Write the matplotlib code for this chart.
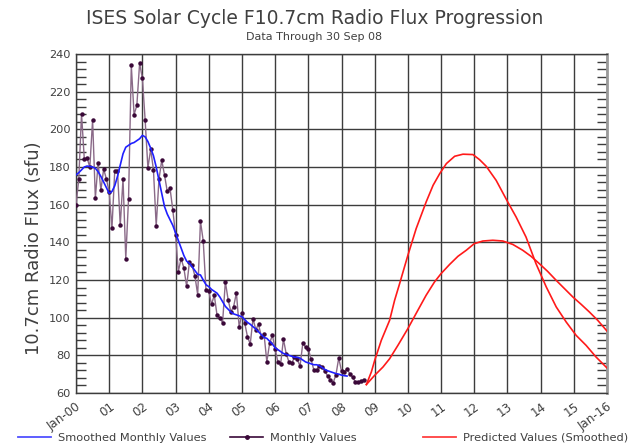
import matplotlib
matplotlib.use('Agg')
import matplotlib.pyplot as plt
from matplotlib.lines import Line2D
from matplotlib.ticker import MultipleLocator, FixedLocator

plt.rcParams['font.family'] = ['DejaVu Sans']

# ---- data ----
monthly_start_year = 2000  # first month: Jan 2000
monthly_values = [
    160.0, 173.4, 208.2, 184.2, 184.9, 179.9, 205.0, 163.5, 182.1, 167.7, 178.9, 173.6,
    166.8, 147.5, 177.7, 178.0, 149.0, 173.7, 131.3, 163.2, 233.9, 207.8, 212.7, 235.1,
    227.1, 205.0, 179.5, 189.4, 178.6, 148.7, 173.5, 183.6, 175.8, 167.0, 168.7, 157.2,
    144.0, 124.5, 131.4, 126.4, 116.6, 129.3, 127.7, 122.1, 112.2, 151.3, 140.8, 114.8,
    114.1, 107.0, 112.0, 101.2, 99.8, 97.4, 119.1, 109.6, 103.1, 105.9, 113.2, 95.0,
    102.3, 97.2, 89.9, 86.0, 99.5, 93.7, 96.4, 90.0, 91.1, 76.6, 86.3, 90.8,
    83.4, 76.5, 75.5, 88.6, 80.9, 76.5, 75.8, 79.0, 77.8, 74.3, 86.3, 84.5,
    83.5, 77.8, 72.2, 72.4, 74.4, 74.0, 71.6, 69.0, 67.1, 65.5, 69.7, 78.6,
    71.6, 71.1, 72.9, 70.2, 68.4, 65.9, 65.7, 66.3, 67.1,
]
smoothed_values = [
    175.8, 177.0, 178.5, 180.0, 180.5, 180.3, 180.0, 179.3, 177.5, 175.0, 172.0, 169.0,
    166.0, 167.0, 170.0, 175.0, 181.0, 187.0, 190.5, 191.5, 192.5, 193.0, 194.0, 195.0,
    196.8, 196.0, 193.5, 190.0, 186.0, 180.0, 173.0, 166.0, 159.0, 155.0, 152.0, 149.0,
    145.0, 141.0, 137.0, 133.0, 130.0, 128.9, 127.0, 125.0, 123.0, 122.7, 120.0, 117.5,
    116.5, 115.0, 114.0, 113.0, 111.0, 108.5, 106.0, 104.5, 103.0, 102.0, 101.5, 101.0,
    100.5, 99.0, 97.5, 96.5, 95.2, 94.0, 92.5, 91.0, 89.5, 89.0, 87.5, 86.0,
    84.0, 83.0, 82.0, 81.0, 80.5, 80.0, 79.5, 79.0, 79.0, 78.5, 77.5, 76.5,
    76.0, 75.5, 75.0, 75.0, 74.5, 73.5, 72.5, 71.8, 71.3, 70.8, 70.3, 70.0,
    69.5, 69.2, 69.0,
]
pred_high_years = [2008.75, 2008.9, 2009.0, 2009.2, 2009.45, 2009.6, 2009.75, 2010.0,
                   2010.25, 2010.55, 2010.76, 2010.96, 2011.16, 2011.41, 2011.66, 2011.96,
                   2012.16, 2012.36, 2012.66, 2013.01, 2013.26, 2013.56, 2013.86, 2014.17,
                   2014.47, 2014.77, 2015.07, 2015.37, 2015.67, 2016.0]
pred_high_values = [64.5, 71.2, 77.3, 88.0, 98.6, 109.2, 118.0, 133.1,
                    147.3, 161.4, 170.3, 176.5, 181.8, 185.7, 186.8, 186.6,
                    183.9, 180.4, 172.9, 161.4, 153.5, 142.8, 128.7, 116.3,
                    105.7, 97.7, 90.6, 85.3, 79.1, 73.3]
pred_low_years = [2008.75, 2009.0, 2009.25, 2009.45, 2009.7, 2010.0, 2010.3, 2010.55,
                  2010.8, 2011.0, 2011.26, 2011.51, 2011.76, 2012.0, 2012.26, 2012.56,
                  2012.86, 2013.16, 2013.46, 2013.71, 2013.96, 2014.21, 2014.47, 2014.72,
                  2014.97, 2015.22, 2015.47, 2015.72, 2016.0]
pred_low_values = [64.5, 69.4, 73.8, 78.2, 85.3, 94.2, 103.9, 111.9,
                   118.9, 123.4, 128.3, 132.6, 135.8, 139.3, 140.7, 141.1,
                   140.7, 138.9, 135.8, 132.6, 128.7, 124.6, 119.8, 115.4,
                   111.0, 107.1, 103.0, 98.6, 92.9]
year_ticks = list(range(2000, 2017))
year_labels = ['Jan-00', '01', '02', '03', '04', '05', '06', '07', '08', '09',
               '10', '11', '12', '13', '14', '15', 'Jan-16']
y_ticks = list(range(60, 241, 20))

monthly_x = [monthly_start_year + i / 12 for i in range(len(monthly_values))]
smoothed_x = [monthly_start_year + i / 12 for i in range(len(smoothed_values))]

# ---- figure ----
W, H = 629, 445
fig = plt.figure(figsize=(W / 100, H / 100), dpi=100)
L, R, T, B = 76, 607, 54, 393
ax = fig.add_axes([L / W, 1 - B / H, (R - L) / W, (B - T) / H])

TXT = '#404040'
GRID = '#3c3c3c'
PURPLE_LINE = '#8a6a88'
PURPLE_DOT = '#3a0838'
BLUE = '#1f1fff'
RED = '#ff1a1a'

ax.plot(monthly_x, monthly_values, color=PURPLE_LINE, lw=1.0, zorder=3)
ax.plot(monthly_x, monthly_values, ls='none', marker='o', ms=2.2,
        color=PURPLE_DOT, mec=PURPLE_DOT, zorder=4)
ax.plot(smoothed_x, smoothed_values, color=BLUE, lw=1.2, zorder=5)
ax.plot(pred_high_years, pred_high_values, color=RED, lw=1.2, zorder=5)
ax.plot(pred_low_years, pred_low_values, color=RED, lw=1.2, zorder=5)

ax.set_xlim(2000, 2016)
ax.set_ylim(60, 240)
ax.xaxis.set_major_locator(FixedLocator(year_ticks))
ax.set_xticklabels(year_labels, rotation=36, ha='right', va='top',
                   rotation_mode='anchor', fontsize=8.6, color=TXT)
ax.yaxis.set_major_locator(FixedLocator(y_ticks))
ax.set_yticklabels([str(v) for v in y_ticks], fontsize=8.2, color=TXT)
ax.yaxis.set_minor_locator(MultipleLocator(4))
ax.tick_params(axis='x', which='major', length=0, pad=5)
ax.tick_params(axis='y', which='major', length=0, pad=4)
ax.tick_params(axis='y', which='minor', direction='in', length=7, width=1,
               color=GRID, left=True, right=True)
ax.grid(True, which='major', color=GRID, lw=1.0)
ax.set_axisbelow(True)
for s in ['left', 'bottom', 'top']:
    ax.spines[s].set_color(GRID)
    ax.spines[s].set_linewidth(1.0)
ax.spines['right'].set_color('#9a9a9a')
ax.spines['right'].set_linewidth(2.0)

# titles
fig.text(0.5, 1 - 19 / H, 'ISES Solar Cycle F10.7cm Radio Flux Progression',
         ha='center', va='center', fontsize=13.5, color=TXT)
fig.text(0.5, 1 - 37 / H, 'Data Through 30 Sep 08',
         ha='center', va='center', fontsize=8, color=TXT)
fig.text(34 / W, 1 - 248 / H, '10.7cm Radio Flux (sfu)', rotation=90,
         ha='center', va='center', fontsize=13, color=TXT)

# legends
leg_y = 1 - 438 / H
items = [
    (18, Line2D([], [], color='#5050ff', lw=1.3), 'Smoothed Monthly Values'),
    (230, Line2D([], [], color=PURPLE_DOT, lw=1.2, marker='o', ms=2.5), 'Monthly Values'),
    (423, Line2D([], [], color='#ff4040', lw=1.3), 'Predicted Values (Smoothed)'),
]
for x0, h, lab in items:
    fig.legend([h], [lab], loc='center left', bbox_to_anchor=(x0 / W, leg_y),
               frameon=False, borderpad=0, borderaxespad=0, handlelength=2.9,
               handletextpad=0.6, fontsize=8.2, labelcolor=TXT)

fig.savefig('out.png', dpi=100)
